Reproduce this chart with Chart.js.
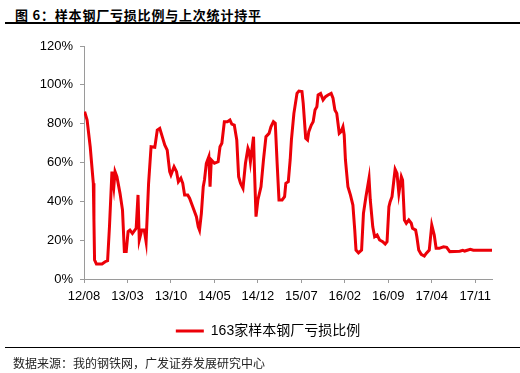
<!DOCTYPE html>
<html>
<head>
<meta charset="utf-8">
<script src="https://cdn.jsdelivr.net/npm/chart.js@4.4.0/dist/chart.umd.min.js"></script>
<style>
  body { margin: 0; background: #fff; }
  .wrap { position: relative; width: 520px; height: 373px; overflow: hidden; }
  .title { position: absolute; left: 15px; top: 5px; font: bold 13px "Noto Sans CJK SC", sans-serif; letter-spacing: 0.8px; color: #000; }
  .rule1 { position: absolute; left: 5px; right: 0; top: 22px; height: 2px; background: #000; }
  .rule2 { position: absolute; left: 5px; right: 0; top: 347px; height: 1px; background: #000; }
  .source { position: absolute; left: 13px; top: 354px; font: 12px "Noto Sans CJK SC", sans-serif; color: #222; }
  #myChart { position: absolute; left: 0; top: 28px; }
</style>
</head>
<body>
<div class="wrap">
  <div class="title">图 6：样本钢厂亏损比例与上次统计持平</div>
  <div class="rule1"></div>
  <canvas id="myChart" width="520" height="320"></canvas>
  <div class="rule2"></div>
  <div class="source">数据来源：我的钢铁网，广发证券发展研究中心</div>
</div>
<script>
// months counted from 2012/08, values in %
const months = [0.1, 0.5, 1.0, 1.5, 1.6, 1.7, 2.0, 2.9, 3.4, 3.8, 4.1, 4.5, 4.8, 5.0, 5.3, 5.8, 6.2, 6.5, 6.8, 7.1,
  7.4, 7.8, 8.4, 8.7, 8.9, 9.3, 9.7, 10.0, 10.4, 10.8, 11.4, 11.8, 12.2, 12.6, 13.0, 13.4, 13.8, 14.0, 14.5, 14.9,
  15.2, 15.6, 15.9, 16.2, 16.7, 17.0, 17.6, 18.1, 18.4, 18.6, 18.9, 19.2, 19.4, 19.7, 20.1, 20.3, 20.5, 21.0, 21.6, 21.9,
  22.2, 22.6, 23.1, 23.5, 23.8, 24.2, 24.6, 24.9, 25.2, 25.6, 26.0, 26.4, 26.6, 26.8, 27.3, 27.4, 27.7, 28.0, 28.5, 28.9,
  29.3, 29.8, 30.1, 30.5, 30.8, 31.1, 31.4, 31.9, 32.3, 32.5, 32.9, 33.2, 33.4, 33.8, 34.3, 34.6, 35.1, 35.3, 35.7, 36.0,
  36.2, 36.6, 36.9, 37.2, 37.5, 37.7, 38.1, 38.5, 38.9, 39.3, 39.8, 40.1, 40.4, 40.7, 40.9, 41.1, 41.4, 41.7, 41.9, 42.1,
  42.5, 42.9, 43.3, 43.6, 43.8, 44.2, 44.7, 45.0, 45.4, 45.9, 46.1, 46.5, 46.8, 47.2, 47.6, 48.1, 48.5, 48.8, 49.1, 49.3,
  49.6, 49.9, 50.1, 50.4, 50.7, 51.1, 51.3, 51.6, 51.9, 52.3, 52.7, 52.9, 53.4, 53.6, 53.9, 54.3, 54.8, 55.1, 55.6, 56.0,
  56.4, 56.7, 57.2, 57.9, 58.4, 58.9, 60.5, 61.0, 61.3, 62.2, 62.7, 65.7];
const lossRatio = [86.2, 81.9, 68.1, 49.3, 30.4, 9.8, 7.7, 7.7, 8.9, 9.4, 26.9, 55.3, 47.5, 55.3, 52.7, 44.1, 35.5, 14.1, 14.1, 24.4,
  25.2, 23.5, 26.1, 43.3, 20.1, 25.2, 25.2, 19.2, 49.3, 68.1, 67.8, 76.7, 77.6, 73.3, 69.0, 66.4, 55.3, 53.6, 57.8, 55.3,
  50.1, 51.9, 49.3, 43.3, 43.3, 41.6, 36.4, 32.1, 26.9, 25.2, 33.8, 47.5, 51.0, 59.6, 63.0, 47.5, 61.3, 59.6, 60.4, 68.1,
  69.9, 81.0, 81.0, 81.9, 79.8, 79.3, 71.6, 52.7, 49.3, 46.7, 59.6, 67.3, 65.6, 60.4, 73.3, 61.3, 32.1, 40.7, 47.5, 61.3,
  73.3, 75.0, 78.4, 81.0, 80.2, 59.6, 40.7, 40.7, 42.4, 49.3, 50.1, 61.3, 71.6, 85.3, 95.6, 96.8, 96.5, 90.5, 72.5, 71.6,
  75.9, 79.3, 81.0, 87.0, 88.7, 94.8, 95.6, 92.2, 93.9, 94.8, 95.6, 93.1, 87.0, 85.3, 80.2, 75.0, 75.9, 78.4, 74.2, 61.3,
  47.5, 43.3, 38.1, 25.2, 14.9, 13.5, 14.9, 33.8, 42.4, 51.9, 40.7, 26.9, 21.8, 22.7, 20.1, 19.2, 18.0, 19.2, 37.2, 39.8,
  42.4, 51.0, 56.5, 54.4, 44.1, 52.7, 51.0, 30.4, 28.7, 30.4, 28.7, 26.1, 25.2, 21.8, 14.9, 12.7, 11.8, 13.2, 14.9, 27.8,
  22.7, 15.8, 15.8, 16.6, 16.3, 14.1, 14.3, 14.8, 14.4, 15.3, 14.8, 14.8];
const tickLabels = ["12/08", "13/03", "13/10", "14/05", "14/12", "15/07", "16/02", "16/09", "17/04", "17/11"];
const seriesName = "163家样本钢厂亏损比例";

const points = months.map((m, i) => ({ x: m, y: lossRatio[i] }));
const axisColor = "#9a9a9a";

// nudge the legend a bit to the right, like the original
const legendShift = {
  id: "legendShift",
  afterLayout(chart) {
    chart.legend.left += 22;
    chart.legend.right += 22;
  },
};

const ctx = document.getElementById("myChart").getContext("2d");
const myChart = new Chart(ctx, {
  type: "line",
  data: {
    datasets: [
      {
        label: seriesName,
        data: points,
        borderColor: "#ec0008",
        backgroundColor: "#ec0008",
        borderWidth: 3,
        pointRadius: 0,
        tension: 0,
      },
    ],
  },
  options: {
    responsive: false,
    animation: false,
    layout: { padding: { left: 0, right: 28, top: 18, bottom: 0 } },
    plugins: {
      tooltip: { enabled: false },
      legend: {
        position: "bottom",
        labels: {
          boxWidth: 28,
          boxHeight: 3,
          padding: 10,
          color: "#000",
          font: { family: "'Liberation Sans', 'Noto Sans CJK SC', sans-serif", size: 14 },
          generateLabels: (chart) => {
            let items = Chart.defaults.plugins.legend.labels.generateLabels(chart);
            items.forEach((it) => { it.lineWidth = 0; });
            return items;
          },
        },
      },
    },
    scales: {
      x: {
        type: "linear",
        min: 0,
        max: 65.7,
        afterFit: (scale) => { scale.height = 35; },
        border: { color: axisColor, width: 1 },
        grid: { drawOnChartArea: false, drawTicks: true, tickLength: 4, color: axisColor },
        ticks: {
          stepSize: 7,
          includeBounds: false,
          maxRotation: 0,
          autoSkip: false,
          padding: 6,
          color: "#000",
          font: { family: "'Liberation Sans', Arial, sans-serif", size: 13 },
          callback: (v) => tickLabels[Math.round(v / 7)],
        },
      },
      y: {
        min: 0,
        max: 120,
        afterFit: (scale) => { scale.width = 84; },
        border: { color: axisColor, width: 1 },
        grid: { drawOnChartArea: false, drawTicks: true, tickLength: 4, color: axisColor },
        ticks: {
          stepSize: 20,
          padding: 7,
          color: "#000",
          font: { family: "'Liberation Sans', Arial, sans-serif", size: 13 },
          callback: (v) => v + "%",
        },
      },
    },
  },
  plugins: [legendShift],
});
</script>
</body>
</html>
